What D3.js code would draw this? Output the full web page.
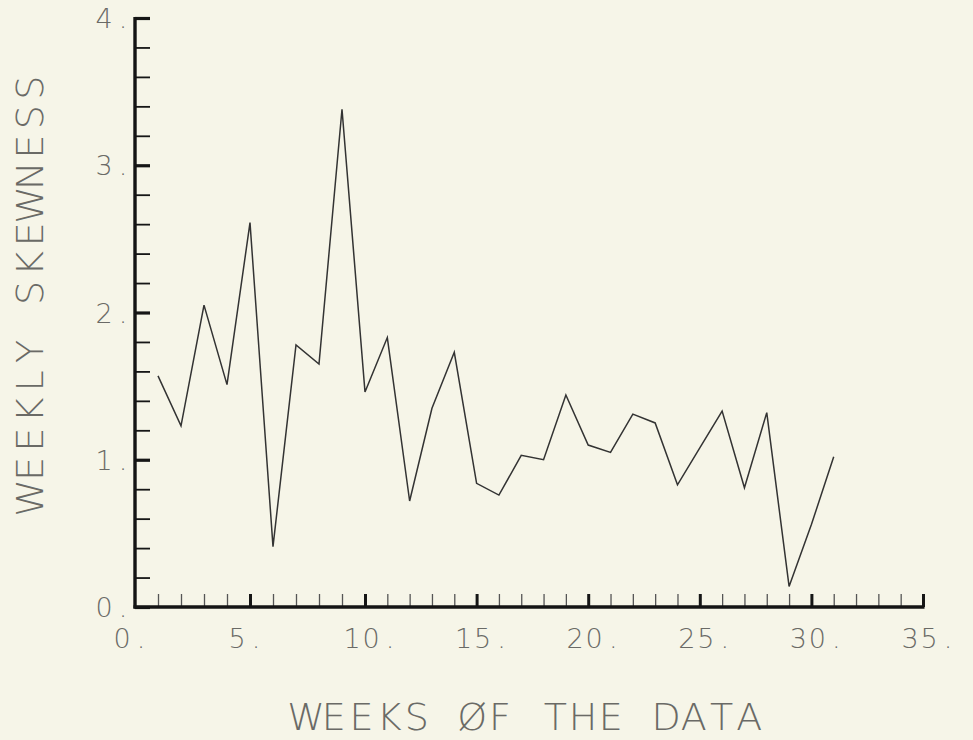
<!DOCTYPE html>
<html>
<head>
<meta charset="utf-8">
<script src="https://cdn.jsdelivr.net/npm/d3@7"></script>
<style>
  html, body { margin: 0; padding: 0; background: #f6f5e8; }
  svg { display: block; }
  text { font-family: "DejaVu Sans", sans-serif; font-weight: 200; fill: #6a6a66; }
</style>
</head>
<body>
<svg id="chart" width="973" height="740"></svg>
<script>
// weekly skewness, weeks 1..31
const weeks = d3.range( 1, 32 );
const skewness = [
  1.57, 1.23, 2.05, 1.51, 2.61, 0.41, 1.78, 1.65, 3.38, 1.46,
  1.83, 0.72, 1.35, 1.73, 0.84, 0.76, 1.03, 1.00, 1.44, 1.10,
  1.05, 1.31, 1.25, 0.83, 1.08, 1.33, 0.81, 1.32, 0.14, 0.56,
  1.02,
];
const xLabels = [ "0.", "5.", "10.", "15.", "20.", "25.", "30.", "35." ];
const yLabels = [ "0.", "1.", "2.", "3.", "4." ];
const xTitle = "WEEKS ØF THE DATA";
const yTitle = "WEEKLY SKEWNESS";

const svg = d3.select( "#chart" );

// the scanned plot is slightly stretched near the left, so a two-piece scale
const x = d3.scaleLinear().domain( [ 0, 10, 35 ] ).range( [ 135, 365, 923 ] );
const y = d3.scaleLinear().domain( [ 0, 4 ] ).range( [ 607, 18 ] );

// place each glyph on a fixed pitch, like the pen plotter did
const pitched = ( sel, str, x0, adv ) =>
  sel.attr( "x", str.split( "" ).map( ( _, i ) => x0 + i * adv ).join( " " ) )
    .attr( "text-anchor", "middle" )
    .text( str );

// y axis
const yAxis = d3.axisRight( y )
  .tickValues( d3.range( 0, 4.01, 0.2 ) )
  .tickSize( 15 )
  .tickFormat( "" );
const gy = svg.append( "g" )
  .attr( "transform", `translate(${x( 0 )},0)` )
  .call( yAxis );
gy.select( ".domain" ).remove();
gy.selectAll( ".tick line" )
  .attr( "stroke", "#161616" )
  .attr( "stroke-width", d => Math.abs( d - Math.round( d ) ) < 1e-6 ? 3.2 : 1.8 );

// x axis
const xAxis = d3.axisTop( x )
  .tickValues( d3.range( 1, 36 ) )
  .tickSize( 13 )
  .tickFormat( "" );
const gx = svg.append( "g" )
  .attr( "transform", `translate(0,${y( 0 )})` )
  .call( xAxis );
gx.select( ".domain" ).remove();
gx.selectAll( ".tick line" )
  .attr( "stroke", d => d % 5 === 0 ? "#161616" : "#555" )
  .attr( "stroke-width", d => d % 5 === 0 ? 3 : 1.3 );

// axis lines
svg.append( "line" )
  .attr( "x1", x( 0 ) ).attr( "x2", x( 0 ) )
  .attr( "y1", y( 4 ) - 1 ).attr( "y2", y( 0 ) + 1.5 )
  .attr( "stroke", "#141414" ).attr( "stroke-width", 3.4 );
svg.append( "line" )
  .attr( "x1", x( 0 ) - 1.5 ).attr( "x2", x( 35 ) + 1.5 )
  .attr( "y1", y( 0 ) ).attr( "y2", y( 0 ) )
  .attr( "stroke", "#141414" ).attr( "stroke-width", 3.4 );

// tick labels
xLabels.forEach( ( lab, i ) => {
  svg.append( "text" )
    .attr( "y", 648 )
    .style( "font-size", "27px" )
    .call( pitched, lab, x( i * 5 ) - 13, 19 );
} );
yLabels.forEach( ( lab, i ) => {
  svg.append( "text" )
    .attr( "y", y( i ) + 10 )
    .style( "font-size", "27px" )
    .call( pitched, lab, 104, 19 );
} );

// titles
svg.append( "text" )
  .attr( "y", 730 )
  .style( "font-size", "38px" )
  .call( pitched, xTitle, 306, 27.7 );
svg.append( "text" )
  .attr( "transform", "translate(43,0) rotate(-90)" )
  .attr( "y", 0 )
  .style( "font-size", "38px" )
  .call( pitched, yTitle, -498, 29.3 );

// data line
const line = d3.line()
  .x( ( d, i ) => x( weeks[i] ) )
  .y( d => y( d ) );
svg.append( "path" )
  .attr( "d", line( skewness ) )
  .attr( "fill", "none" )
  .attr( "stroke", "#333" )
  .attr( "stroke-width", 1.5 )
  .attr( "stroke-linejoin", "miter" );
</script>
</body>
</html>
